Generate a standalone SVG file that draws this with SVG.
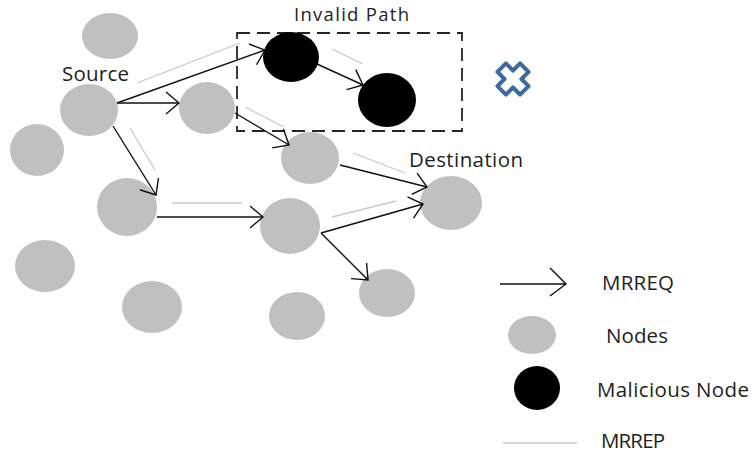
<svg xmlns="http://www.w3.org/2000/svg" width="753" height="453" viewBox="0 0 753 453">
<style>
.node{fill:#c0c0c0}
.mal{fill:#000}
.req{stroke:#111;stroke-width:1.4;fill:none;marker-end:url(#ah)}
.rep{stroke:#c8c8c8;stroke-width:1.3;fill:none}
.lbl{font-family:"Open Sans","Liberation Sans",sans-serif;font-size:20.5px;fill:#1e1e1e}
</style>
<defs>
<marker id="ah" markerUnits="userSpaceOnUse" markerWidth="20" markerHeight="26" refX="16" refY="12" orient="auto">
<path d="M3,1 L16,12 L3,23" fill="none" stroke="#111" stroke-width="1.4"/>
</marker>
</defs>
<rect width="753" height="453" fill="#fff"/>

<g id="invalid-region">
<rect x="237" y="33" width="225" height="98" fill="none" stroke="#262626" stroke-width="1.8" stroke-dasharray="13 7"/>
<text class="lbl" x="294" y="21" textLength="115" style="font-size:18.5px">Invalid Path</text>
</g>

<g id="reject-icon" transform="translate(513,79) rotate(45)">
<path d="M-6,-16 L6,-16 L6,-6 L16,-6 L16,6 L6,6 L6,16 L-6,16 L-6,6 L-16,6 L-16,-6 L-6,-6 Z" fill="#fff" stroke="#3a6aa0" stroke-width="4" stroke-linejoin="round"/>
</g>

<g id="n1"><ellipse class="node" cx="110" cy="36" rx="28" ry="23"/></g>
<g id="source"><ellipse class="node" cx="89" cy="110" rx="29" ry="26"/><text class="lbl" x="62" y="81" textLength="67">Source</text></g>
<g id="n3"><ellipse class="node" cx="37" cy="150" rx="27" ry="26"/></g>
<g id="n4"><ellipse class="node" cx="127" cy="207" rx="30" ry="29"/></g>
<g id="n5"><ellipse class="node" cx="45" cy="266" rx="30" ry="26"/></g>
<g id="n6"><ellipse class="node" cx="152" cy="307" rx="30" ry="26"/></g>
<g id="n7"><ellipse class="node" cx="207" cy="108" rx="28" ry="26"/></g>
<g id="n8"><ellipse class="node" cx="310" cy="158" rx="29" ry="26"/></g>
<g id="n9"><ellipse class="node" cx="290" cy="226" rx="30" ry="28"/></g>
<g id="destination"><ellipse class="node" cx="451" cy="203" rx="31" ry="27"/><text class="lbl" x="409" y="167" textLength="114">Destination</text></g>
<g id="n11"><ellipse class="node" cx="387" cy="293" rx="28" ry="24"/></g>
<g id="n12"><ellipse class="node" cx="297" cy="316" rx="28" ry="24"/></g>
<g id="mal1"><ellipse class="mal" cx="291" cy="57" rx="28" ry="25"/></g>
<g id="mal2"><ellipse class="mal" cx="387" cy="100" rx="29" ry="27"/></g>

<g id="connectors">
<line class="rep" x1="137" y1="83" x2="240" y2="43"/>
<line class="rep" x1="332" y1="49" x2="363" y2="64"/>
<line class="rep" x1="245" y1="107" x2="284" y2="127"/>
<line class="rep" x1="130" y1="128" x2="155" y2="170"/>
<line class="rep" x1="172" y1="203" x2="242" y2="203"/>
<line class="rep" x1="353" y1="153" x2="405" y2="173"/>
<line class="rep" x1="332" y1="217" x2="396" y2="201"/>

<line class="req" x1="117" y1="103" x2="265" y2="50"/>
<line class="req" x1="117" y1="103" x2="179" y2="103"/>
<line class="req" x1="235" y1="113" x2="289" y2="145"/>
<line class="req" x1="317" y1="64" x2="363" y2="85"/>
<line class="req" x1="113" y1="126" x2="156" y2="195"/>
<line class="req" x1="157" y1="217" x2="263" y2="217"/>
<line class="req" x1="340" y1="165" x2="427" y2="187"/>
<line class="req" x1="321" y1="233" x2="423" y2="204"/>
<line class="req" x1="321" y1="233" x2="368" y2="280"/>
</g>

<g id="legend">
<g id="legend-mrreq">
<path d="M500,284 L566,284 M550,268 L566,284 L550,296" fill="none" stroke="#111" stroke-width="1.4"/>
<text class="lbl" x="602" y="290" textLength="72">MRREQ</text>
</g>
<g id="legend-nodes">
<ellipse class="node" cx="532" cy="335" rx="24" ry="19"/>
<text class="lbl" x="606" y="343" textLength="62">Nodes</text>
</g>
<g id="legend-malicious">
<ellipse class="mal" cx="537" cy="388" rx="23" ry="22"/>
<text class="lbl" x="597" y="397" textLength="152">Malicious Node</text>
</g>
<g id="legend-mrrep">
<line class="rep" x1="503" y1="443" x2="577" y2="443"/>
<text class="lbl" x="601" y="448" textLength="64">MRREP</text>
</g>
</g>
</svg>
